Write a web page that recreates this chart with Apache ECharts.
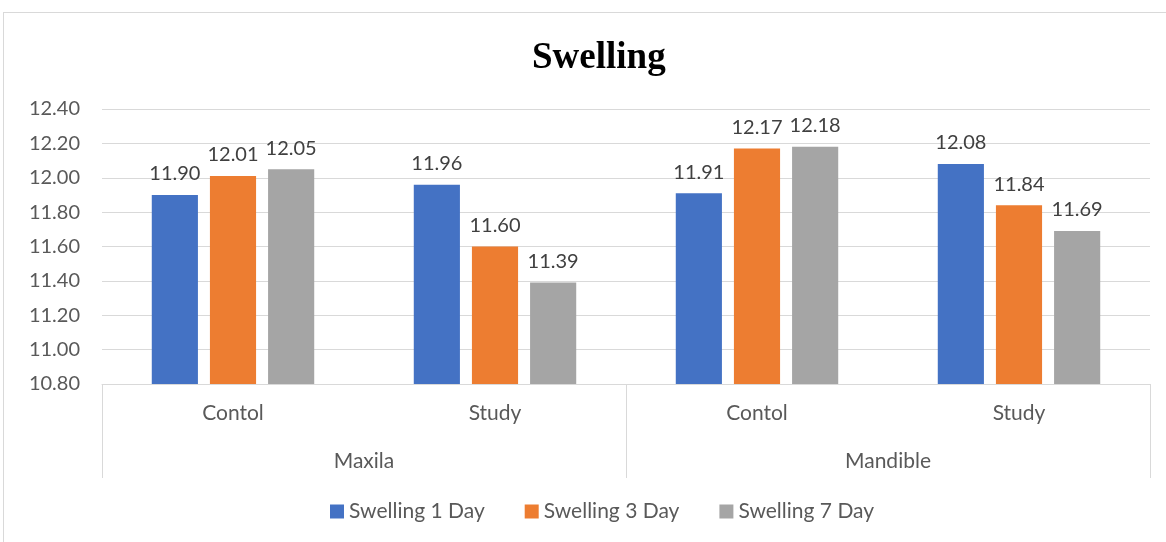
<!DOCTYPE html>
<html>
<head>
<meta charset="utf-8">
<script src="https://cdn.jsdelivr.net/npm/echarts@6/dist/echarts.min.js"></script>
<style>
  html, body { margin: 0; padding: 0; background: #fff; }
  #chart { width: 1166px; height: 542px; position: relative; }
  .frame { position: absolute; left: 3px; top: 12px; width: 1180px; height: 560px; border: 1px solid #d9d9d9; box-sizing: border-box; pointer-events: none; }
</style>
</head>
<body>
<div id="chart"></div>
<div class="frame"></div>
<script>
const categories = ['Contol', 'Study', 'Contol', 'Study']
const groups = ['Maxila', 'Mandible']
const seriesNames = ['Swelling 1 Day', 'Swelling 3 Day', 'Swelling 7 Day']
const day1 = [11.90, 11.96, 11.91, 12.08]
const day3 = [12.01, 11.60, 12.17, 11.84]
const day7 = [12.05, 11.39, 12.18, 11.69]
const colors = ['#4472c4', '#ed7d31', '#a5a5a5']

const font = 'Lato, "Noto Sans", sans-serif'
const myChart = echarts.init(document.getElementById('chart'))

const makeSeries = (name, data, i) => ({
  name,
  type: 'bar',
  xAxisIndex: 0,
  data,
  barGap: '26%',
  barCategoryGap: '38%',
  itemStyle: { color: colors[i] },
  label: {
    show: true,
    position: 'top',
    distance: 11,
    fontFamily: font,
    fontSize: 20,
    color: '#404040',
    formatter: p => p.value.toFixed(2)
  }
})

const option = {
  animation: false,
  backgroundColor: '#fff',
  title: {
    text: 'Swelling',
    left: 527,
    top: 35,
    textStyle: {
      fontFamily: '"Liberation Serif", "DejaVu Serif", serif',
      fontWeight: 'bold',
      fontSize: 37,
      color: '#000'
    }
  },
  legend: {
    data: seriesNames,
    bottom: 15,
    left: 325,
    itemWidth: 14,
    itemHeight: 14,
    itemGap: 40,
    icon: 'rect',
    textStyle: { fontFamily: font, fontSize: 21, color: '#595959' }
  },
  grid: { left: 102, right: 16, top: 109, bottom: 158 },
  xAxis: [
    {
      type: 'category',
      data: categories,
      axisLine: { show: true, lineStyle: { color: '#d9d9d9', width: 1 } },
      axisTick: { show: false },
      axisLabel: { fontFamily: font, fontSize: 21, color: '#595959', margin: 19 }
    },
    {
      type: 'category',
      data: groups,
      position: 'bottom',
      axisLine: { show: false },
      axisTick: { show: true, length: 94, lineStyle: { color: '#d9d9d9', width: 1 } },
      axisLabel: { fontFamily: font, fontSize: 21, color: '#595959', margin: 67 },
      splitLine: { show: false }
    }
  ],
  yAxis: {
    type: 'value',
    min: 10.8,
    max: 12.4,
    interval: 0.2,
    axisLine: { show: false },
    axisTick: { show: false },
    splitLine: { lineStyle: { color: '#d9d9d9', width: 1 } },
    axisLabel: {
      fontFamily: font,
      fontSize: 20,
      color: '#595959',
      margin: 22,
      formatter: v => v.toFixed(2)
    }
  },
  series: [
    makeSeries(seriesNames[0], day1, 0),
    makeSeries(seriesNames[1], day3, 1),
    makeSeries(seriesNames[2], day7, 2)
  ]
}

myChart.setOption(option)
</script>
</body>
</html>
